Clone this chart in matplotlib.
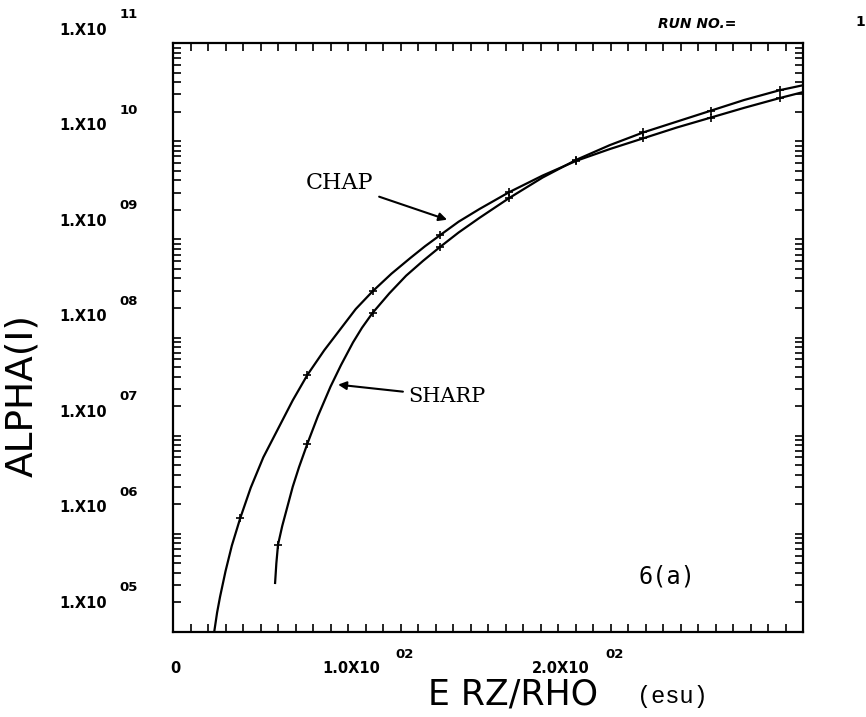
import numpy as np
import matplotlib.pyplot as plt
from matplotlib.ticker import LogLocator, MultipleLocator, NullFormatter

# curva CHAP (x en esu, y como exponente log10)
chap_x = [19.6, 21, 22.4, 25, 28, 32, 37, 43, 50, 57, 64, 72, 79.5, 87, 95, 104, 113,
          120, 127, 136, 146, 160, 176, 192, 208, 224, 240, 256, 272, 289, 300]
chap_logy = [5.0, 5.2, 5.36, 5.62, 5.88, 6.16, 6.47, 6.78, 7.07, 7.36, 7.62, 7.87, 8.08,
             8.29, 8.47, 8.65, 8.81, 8.93, 9.04, 9.18, 9.31, 9.48, 9.65, 9.80, 9.92,
             10.03, 10.14, 10.24, 10.34, 10.44, 10.50]

# curva SHARP
sharp_x = [48.6, 49.2, 50, 52, 54, 57, 60, 64, 69, 75, 80, 85.7, 90, 95, 103, 111, 119,
           127, 136, 146, 160, 176, 192, 208, 224, 240, 256, 272, 289, 300]
sharp_logy = [5.50, 5.70, 5.89, 6.08, 6.24, 6.48, 6.68, 6.92, 7.20, 7.50, 7.72, 7.95,
              8.10, 8.25, 8.45, 8.63, 8.78, 8.92, 9.07, 9.22, 9.42, 9.63, 9.81, 9.96,
              10.09, 10.20, 10.31, 10.42, 10.52, 10.57]

# marcas sobre las curvas
chap_mark_x = [32, 64, 95, 127, 160, 192, 224, 256, 289]
chap_mark_logy = [6.16, 7.62, 8.47, 9.04, 9.48, 9.80, 10.03, 10.24, 10.44]
sharp_mark_x = [50, 64, 95, 127, 160, 192, 224, 256, 289]
sharp_mark_logy = [5.89, 6.92, 8.25, 8.92, 9.42, 9.81, 10.09, 10.31, 10.52]

y_decades = [5, 6, 7, 8, 9, 10, 11]
x_ticks = [0, 100, 200]
x_tick_base = ["0", "1.0X10", "2.0X10"]
x_tick_exp = ["", "02", "02"]

fig = plt.figure(figsize=(8.66, 7.17), dpi=100)
ax = fig.add_axes([0.1998, 0.1185, 0.7275, 0.8215])

ax.plot(chap_x, 10.0 ** np.array(chap_logy), color="black", lw=1.6)
ax.plot(sharp_x, 10.0 ** np.array(sharp_logy), color="black", lw=1.6)
ax.plot(chap_mark_x, 10.0 ** np.array(chap_mark_logy), ls="none", marker="+",
        ms=6, mew=1.2, color="black")
ax.plot(sharp_mark_x, 10.0 ** np.array(sharp_mark_logy), ls="none", marker="+",
        ms=6, mew=1.2, color="black")

ax.set_yscale("log")
ax.set_xlim(0, 300)
ax.set_ylim(1e5, 1e11)

# ticks hacia dentro en los cuatro lados
ax.xaxis.set_major_locator(MultipleLocator(100))
ax.xaxis.set_minor_locator(MultipleLocator(100 / 12))
ax.yaxis.set_major_locator(LogLocator(base=10, numticks=20))
ax.yaxis.set_minor_locator(LogLocator(base=10, subs=np.arange(2, 10), numticks=20))
ax.tick_params(which="both", direction="in", top=True, right=True,
               length=6, width=1.2, labelleft=False, labelbottom=False)
ax.yaxis.set_minor_formatter(NullFormatter())
for s in ax.spines.values():
    s.set_linewidth(1.6)

# etiquetas del eje y (estilo plotter)
for i, k in enumerate(y_decades):
    yf = (632 - (603 - i * 95.5)) / 589.0
    ax.text(-0.105, yf, "1.X10", transform=ax.transAxes, ha="right", va="center",
            fontsize=10.5, fontweight="bold")
    ax.text(-0.085, yf + 0.026, "%02d" % k, transform=ax.transAxes, ha="left",
            va="center", fontsize=9.5, fontweight="bold")

# etiquetas del eje x
for xv, base, ex in zip(x_ticks, x_tick_base, x_tick_exp):
    if ex:
        ax.annotate(base, xy=(xv, 0), xycoords=("data", "axes fraction"),
                    xytext=(-3, -36), textcoords="offset pixels",
                    ha="right", va="center", fontsize=10.5, fontweight="bold")
        ax.annotate(ex, xy=(xv, 0), xycoords=("data", "axes fraction"),
                    xytext=(22, -22), textcoords="offset pixels",
                    ha="center", va="center", fontsize=9.5, fontweight="bold")
    else:
        ax.annotate(base, xy=(xv, 0), xycoords=("data", "axes fraction"),
                    xytext=(2, -36), textcoords="offset pixels",
                    ha="center", va="center", fontsize=10.5, fontweight="bold")

# anotaciones
ax.annotate("CHAP", xy=(130.5, 10 ** 9.20), xytext=(79.5, 10 ** 9.57),
            ha="center", va="center", fontsize=16, family="DejaVu Serif",
            arrowprops=dict(arrowstyle="-|>", color="black", lw=1.5,
                            mutation_scale=12, shrinkA=2, shrinkB=0))
ax.annotate("SHARP", xy=(78.6, 10 ** 7.52), xytext=(130.5, 10 ** 7.40),
            ha="center", va="center", fontsize=15, family="DejaVu Serif",
            arrowprops=dict(arrowstyle="-|>", color="black", lw=1.5,
                            mutation_scale=12, shrinkA=2, shrinkB=0))
ax.text(235, 10 ** 5.57, "6(a)", ha="center", va="center", fontsize=17,
        family="DejaVu Sans Mono")

# titulos de ejes
fig.text(22 / 866, 1 - 395 / 717, "ALPHA(I)", rotation=90, ha="center",
         va="center", fontsize=27)
fig.text(513 / 866, 1 - 694 / 717, "E RZ/RHO", ha="center", va="center", fontsize=25)
fig.text(672 / 866, 1 - 696 / 717, "(esu)", ha="center", va="center", fontsize=17,
         family="Liberation Mono")

fig.text(697 / 866, 1 - 24 / 717, "RUN NO.=", ha="center", va="center",
         fontsize=10, fontweight="bold", fontstyle="italic")
fig.text(860 / 866, 1 - 22 / 717, "1", ha="center", va="center",
         fontsize=10, fontweight="bold")

fig.savefig("out.png", dpi=100)
